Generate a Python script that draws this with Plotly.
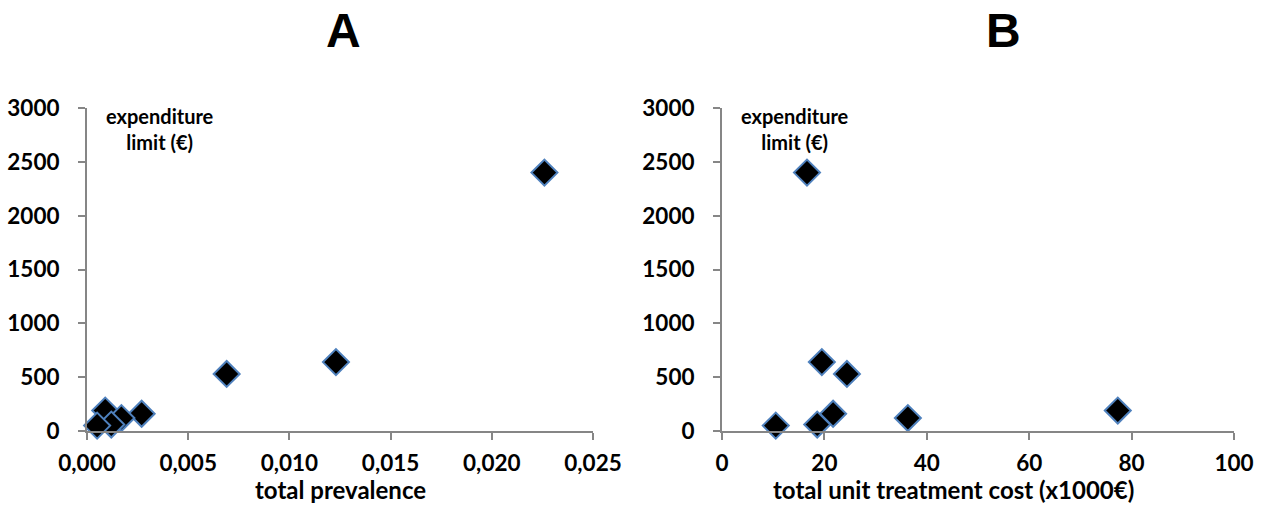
import plotly.graph_objects as go

# Data
expenditure_limit = [2400, 640, 530, 190, 160, 120, 60, 50]
total_prevalence = [0.0226, 0.0123, 0.0069, 0.0009, 0.0027, 0.0017, 0.0012, 0.0005]
unit_cost_k = [16.6, 19.5, 24.4, 77.3, 21.7, 36.3, 18.6, 10.5]
panel_titles = ["A", "B"]
x_titles = ["total prevalence", "total unit treatment cost (x1000€)"]
y_label = "expenditure<br>limit (€)"

W, H = 1266, 505
fig = go.Figure()

marker = dict(symbol="diamond", size=20, color="black",
              line=dict(color="#4F81BD", width=2))

fig.add_trace(go.Scatter(x=total_prevalence, y=expenditure_limit, mode="markers",
                         marker=marker, xaxis="x", yaxis="y", cliponaxis=False,
                         showlegend=False))
fig.add_trace(go.Scatter(x=unit_cost_k, y=expenditure_limit, mode="markers",
                         marker=marker, xaxis="x2", yaxis="y2", cliponaxis=False,
                         showlegend=False))

tickfont = dict(family="Lato", size=22.5, color="black", weight="bold")
axcommon = dict(showgrid=False, zeroline=False, showline=True, linecolor="#868686",
                linewidth=2, ticks="outside", ticklen=7, tickwidth=2, tickcolor="#868686",
                tickfont=tickfont, automargin=False)

ydom = [(H - 431) / H, (H - 108) / H]
fig.update_layout(
    width=W, height=H,
    margin=dict(l=0, r=0, t=0, b=0, autoexpand=False),
    plot_bgcolor="white", paper_bgcolor="white",
    separators=",.",
    xaxis=dict(domain=[87 / W, 593 / W], range=[0, 0.025], tickvals=[0, 0.005, 0.01, 0.015, 0.02, 0.025],
               tickformat=".3f", anchor="y", ticklabelstandoff=4, **axcommon),
    yaxis=dict(domain=ydom, range=[0, 3000], tickvals=[0, 500, 1000, 1500, 2000, 2500, 3000],
               anchor="x", ticklabelstandoff=14, **axcommon),
    xaxis2=dict(domain=[722 / W, 1234 / W], range=[0, 100], tickvals=[0, 20, 40, 60, 80, 100],
                anchor="y2", ticklabelstandoff=4, **axcommon),
    yaxis2=dict(domain=ydom, range=[0, 3000], tickvals=[0, 500, 1000, 1500, 2000, 2500, 3000],
                anchor="x2", ticklabelstandoff=14, **axcommon),
)

anns = []
for cx, t in zip([343, 1003], panel_titles):
    anns.append(dict(text=t, x=cx / W, y=1 - 30 / H, xref="paper", yref="paper",
                     showarrow=False, xanchor="center", yanchor="middle",
                     font=dict(family="Liberation Sans", size=48, color="black", weight="bold")))
for cx, t in zip([340, 953], x_titles):
    anns.append(dict(text=t, x=cx / W, y=0, xref="paper", yref="paper", borderpad=0,
                     showarrow=False, xanchor="center", yanchor="bottom",
                     font=dict(family="Lato", size=24, color="black", weight="bold")))
for cx in [160, 795]:
    anns.append(dict(text=y_label, x=cx / W, y=1 - 129 / H, xref="paper", yref="paper",
                     showarrow=False, xanchor="center", yanchor="middle",
                     font=dict(family="Lato", size=20, color="black", weight="bold")))
fig.update_layout(annotations=anns)

fig.write_html("out.html", config={"displayModeBar": False},
               post_script="document.body.style.margin='0px';document.body.style.overflow='hidden';")
